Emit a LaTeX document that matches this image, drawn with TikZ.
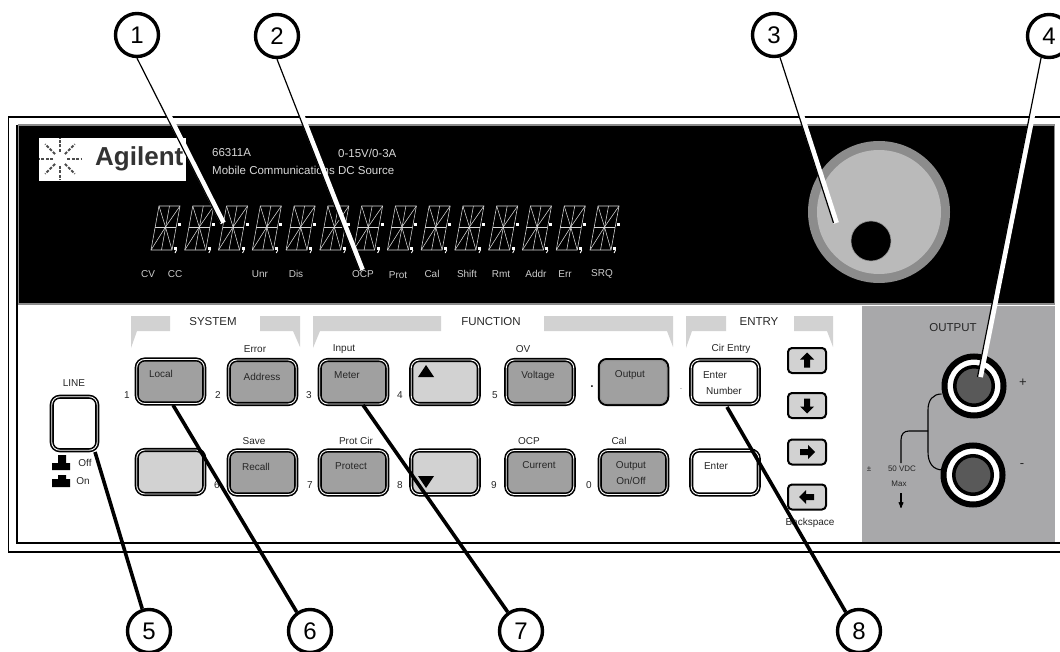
\documentclass[tikz,border=0pt]{standalone}
\usepackage{fontspec}
\setmainfont{Liberation Sans}
\usetikzlibrary{arrows,calc}

\definecolor{keydark}{HTML}{A0A0A0}
\definecolor{keylight}{HTML}{D2D2D2}
\definecolor{panelgray}{HTML}{A8A8AA}

\begin{document}
\begin{tikzpicture}
	[x=1pt,y=-1pt,>=stealth',node distance=90.5pt,
		call node/.style={circle,draw,line width=3.4pt,fill=white,minimum size=43pt,inner sep=0pt,font=\fontsize{24}{24}\selectfont},
		base key/.style={rounded corners=8pt,draw=black,line width=1.6pt,double=white,double distance=.9pt,minimum width=67.5pt,minimum height=44pt,inner sep=0pt},
		dark key/.style={base key,fill=keydark},
		light key/.style={base key,fill=keylight},
		white key/.style={base key,fill=white},
		arrow key/.style={rounded corners=4pt,draw=black,line width=2pt,fill=keylight,minimum width=38pt,minimum height=25pt,inner sep=0pt},
		jack node/.style={circle,draw=black,fill=white,line width=6pt,minimum size=59pt,inner sep=0pt},
		jack core/.style={circle,draw=black,fill=black!65,line width=3.5pt,minimum size=38.5pt,inner sep=0pt},
		bracket/.style={fill=keylight,draw=none},
		lbl/.style={inner sep=0pt,font=\fontsize{10}{10}\selectfont,text=black!85},
		big lbl/.style={inner sep=0pt,font=\fontsize{11.5}{12}\selectfont,text=black!85},
		tiny lbl/.style={inner sep=0pt,font=\fontsize{8}{8}\selectfont,text=black!85},
		front lbl/.style={inner sep=0pt,anchor=west,font=\fontsize{11.5}{12}\selectfont,text=white!85!black},
		status lbl/.style={inner sep=0pt,font=\fontsize{10}{10}\selectfont,text=white!80!black},
		leader/.style={draw=black,line width=1.2pt},
		thick leader/.style={draw=black,line width=3.6pt},
		white leader/.style={draw=white,line width=5.5pt}]

	\useasboundingbox (0,0) rectangle (1060,652);

	% cabinet outline
	\draw[line width=1.4pt] (1060,117) -- (8.5,117) -- (8.5,552) -- (1060,552);
	\draw[line width=1.2pt] (17,125) -- (17,543) -- (1060,543);
	\node[fill=black,draw=black!45,line width=1.2pt,minimum width=1036pt,minimum height=179pt,inner sep=0pt] (display) at (536.5,214.5) {};
	\node[fill=panelgray,minimum width=193pt,minimum height=236pt,inner sep=0pt] (outpanel) at (958.5,424) {};

	% logo
	\node[fill=white,minimum width=147pt,minimum height=43pt,inner sep=0pt] (logo) at (112.5,159.5) {};
	\foreach \a in {0,45,...,315}
		\draw[black!70,line width=2pt,dash pattern=on 3pt off 1.5pt] ($(60,159)+(\a:7)$) -- ($(60,159)+(\a:21)$);
	\node[inner sep=0pt,anchor=west,font=\fontsize{26}{27}\selectfont\bfseries,text=black!80] (brand) at (95,159) {Agilent};
	\node[front lbl] (model) at (212,153) {66311A};
	\node[front lbl] (rating) at (338,153) {0-15V/0-3A};
	\node[front lbl] (source) at (212,170) {Mobile Communications DC Source};

	% alphanumeric display
	\foreach \n in {0,...,13} {
		\begin{scope}[shift={(151+33.77*\n,250)},draw=white!85!black,line width=.55pt]
			\draw (8,-44) -- (29,-44) -- (21,0) -- (0,0) -- cycle;
			\draw (4,-23) -- (25,-23);
			\draw (18.5,-44) -- (10.5,0);
			\draw (8,-44) -- (14.5,-23) -- (21,0);
			\draw (29,-44) -- (14.5,-23) -- (0,0);
			\fill[white] (27,-27) rectangle (30,-24);
			\fill[white] (23,-3) rectangle (26,0);
			\draw[white,line width=.9pt] (25.5,0) -- (24,3);
		\end{scope}
	}
	\node[status lbl] (cv) at (148,274) {CV};
	\node[status lbl] (cc) at (175,274) {CC};
	\node[status lbl] (unr) at (260,274) {Unr};
	\node[status lbl] (dis) at (296,274) {Dis};
	\node[status lbl] (ocp) at (363,274) {OCP};
	\node[status lbl] (prot) at (398,275) {Prot};
	\node[status lbl] (cal) at (432,274) {Cal};
	\node[status lbl] (shift) at (467,274) {Shift};
	\node[status lbl] (rmt) at (501,274) {Rmt};
	\node[status lbl] (addr) at (536,274) {Addr};
	\node[status lbl] (err) at (565,274) {Err};
	\node[status lbl] (srq) at (602,274) {SRQ};

	% knob
	\node[circle,fill=black!45,minimum size=142pt,inner sep=0pt] (knob) at (879,212) {};
	\node[circle,fill=black!27,minimum size=124pt,inner sep=0pt] (knobtop) at (879,212) {};
	\node[circle,fill=black,draw=black!40,line width=.6pt,minimum size=40pt,inner sep=0pt] (dimple) at (871,241) {};

	% group brackets
	\fill[bracket] (131,316) -- (170,316) -- (170,331) -- (137,331) -- (131,348) -- cycle;
	\fill[bracket] (260,316) -- (300,316) -- (300,347) -- (293,331) -- (260,331) -- cycle;
	\fill[bracket] (313,316) -- (441,316) -- (441,331) -- (320,331) -- (313,348) -- cycle;
	\fill[bracket] (544,316) -- (673,316) -- (673,347) -- (667,331) -- (544,331) -- cycle;
	\fill[bracket] (686,316) -- (726,316) -- (726,331) -- (692,331) -- (686,348) -- cycle;
	\fill[bracket] (794,316) -- (833,316) -- (833,347) -- (827,331) -- (794,331) -- cycle;
	\node[big lbl] (system) at (213,322) {SYSTEM};
	\node[big lbl] (function) at (491,322) {FUNCTION};
	\node[big lbl] (entry) at (759,322) {ENTRY};
	\node[big lbl] (output) at (953,328) {OUTPUT};

	% line switch
	\node[base key,fill=white,minimum width=45.5pt,minimum height=53.5pt] (line) at (74.5,423.5) {};
	\node[lbl] (linetxt) at (74,383) {LINE};
	\fill (58,455) rectangle (66,463) (52,463) rectangle (70,470);
	\fill (58,475) rectangle (66,479) (52,479) rectangle (70,487);
	\node[lbl] (off) at (85,463) {Off};
	\node[lbl] (on) at (83,481) {On};

	% keys
	\node[dark key] (local) at (170.5,381.5) {};
	\node[dark key] (address) at (262.5,382) {};
	\node[dark key] (meter) at (353.5,382) {};
	\node[light key] (upkey) at (445,382) {};
	\node[dark key] (voltage) at (540,382) {};
	\node[rounded corners=8pt,fill=keydark,draw=black,line width=2pt,minimum width=69.5pt,minimum height=46pt,inner sep=0pt] (outkey) at (633.5,382) {};
	\node[rounded corners=7pt,draw=black!42,line width=1pt,minimum width=66.5pt,minimum height=43pt,inner sep=0pt] (outrim) at (633.5,382) {};
	\node[white key] (number) at (725,382) {};
	\node[light key] (blank)[below of = local] {};
	\node[dark key] (recall)[below of = address] {};
	\node[dark key] (protect)[below of = meter] {};
	\node[light key] (downkey)[below of = upkey] {};
	\node[dark key] (current)[below of = voltage] {};
	\node[dark key] (onoff)[below of = outkey] {};
	\node[white key] (enter)[below of = number] {};
	\fill (418,377) -- (426,365) -- (434,377) -- cycle;
	\fill (418,476) -- (426,488) -- (434,476) -- cycle;

	% arrow keys
	\node[arrow key] (arrowup) at (807,360.5) {};
	\node[arrow key] (arrowdown) at (807,405.5) {};
	\node[arrow key] (arrowright) at (807,452) {};
	\node[arrow key] (arrowleft) at (807,497) {};
	\foreach \k/\r in {arrowup/0,arrowdown/180,arrowright/270,arrowleft/90}
		\fill[shift={(\k)},rotate=\r] (0,-8) -- (7,-1) -- (3,-1) -- (3,7) -- (-3,7) -- (-3,-1) -- (-7,-1) -- cycle;

	% key texts
	\node[lbl] (txtlocal) at (161,374) {Local};
	\node[lbl] (txtaddress) at (262,377) {Address};
	\node[lbl] (txtmeter) at (347,375) {Meter};
	\node[lbl] (txtvoltage) at (538,376) {Voltage};
	\node[lbl] (txtoutput) at (630,375) {Output};
	\node[lbl] (txtenter) at (715,375) {Enter};
	\node[lbl] (txtnumber) at (724,391) {Number};
	\node[lbl] (txtrecall) at (256,467) {Recall};
	\node[lbl] (txtprotect) at (351,466) {Protect};
	\node[lbl] (txtcurrent) at (539,465) {Current};
	\node[lbl] (txtout) at (631,466) {Output};
	\node[lbl] (txtonoff) at (631,481) {On/Off};
	\node[lbl] (txtenter2) at (716,466) {Enter};

	\node[lbl] (txterror) at (255,349) {Error};
	\node[lbl] (txtinput) at (344,349) {Input};
	\node[lbl] (txtov) at (523,349) {OV};
	\node[lbl] (txtclr) at (731,349) {Cir Entry};
	\node[lbl] (txtsave) at (254,441) {Save};
	\node[lbl] (txtcir) at (356,441) {Prot Cir};
	\node[lbl] (txtocp) at (529,441) {OCP};
	\node[lbl] (txtcal) at (619,441) {Cal};
	\node[lbl] (txtback) at (810,523) {Backspace};

	\node[lbl] (dig1) at (127,395) {1};
	\node[lbl] (dig2) at (218,395) {2};
	\node[lbl] (dig3) at (309,395) {3};
	\node[lbl] (dig4) at (400,395) {4};
	\node[lbl] (dig5) at (495,395) {5};
	\node[lbl,font=\fontsize{12}{12}\selectfont\bfseries] (digdot) at (592,387) {.};
	\node[lbl,font=\fontsize{7}{7}\selectfont] (digminus) at (681,389) {.};
	\node[lbl] (dig6) at (217,485) {6};
	\node[lbl] (dig7) at (310,485) {7};
	\node[lbl] (dig8) at (400,485) {8};
	\node[lbl] (dig9) at (494,485) {9};
	\node[lbl] (dig0) at (589,485) {0};

	% output terminals
	\node[jack node] (plus) at (974,386) {};
	\node[jack core] (pluscore) at (974,386) {};
	\node[jack node] (minus) at (973,475) {};
	\node[jack core] (minuscore) at (973,475) {};
	\node[big lbl,font=\fontsize{13}{13}\selectfont] (plustxt) at (1023,383) {+};
	\node[big lbl,font=\fontsize{13}{13}\selectfont] (minustxt) at (1022,466) {-};
	\draw[line width=1.1pt] (plus.west) ++(0,8) .. controls (933,394) and (928,400) .. (928,410) -- (928,452) .. controls (928,463) and (933,470) .. (943,470);
	\draw[line width=1.1pt] (928,431) -- (909,431) .. controls (904,431) and (901,434) .. (901,440) -- (901,463);
	\coordinate (vdcend) at (901,508);
	\draw[->,line width=1.1pt] (901,493) -- (vdcend);
	\node[tiny lbl] (pm) at (869,469) {±};
	\node[tiny lbl] (vdc) at (902,469) {50 VDC};
	\node[tiny lbl] (max) at (899,484) {Max};

	% callouts
	\node[call node] (call1) at (137,35) {1};
	\node[call node] (call2) at (277,36) {2};
	\node[call node] (call3) at (774,35) {3};
	\node[call node] (call4) at (1049,36) {4};
	\node[call node] (call5) at (149,631) {5};
	\node[call node] (call6) at (310,631) {6};
	\node[call node] (call7) at (521,631) {7};
	\node[call node] (call8) at (859,631) {8};

	\coordinate (tip1) at (220.5,223);
	\coordinate (tip2) at (359.5,270);
	\coordinate (tip3) at (833.5,223);
	\coordinate (tip4) at (977.5,377);
	\coordinate (tip5) at (95,452);
	\coordinate (tip6) at (173,405);
	\coordinate (tip7) at (363,405);
	\coordinate (tip8) at (727,407);

	\draw[white leader] ([xshift=2.7pt]$(call1.south)!.345!(tip1)$) -- ([xshift=2.7pt]tip1);
	\draw[white leader] ([xshift=2.7pt]$(call2.south)!.262!(tip2)$) -- ([xshift=2.7pt]tip2);
	\draw[white leader] ([xshift=2.7pt]$(call3.-75)!.345!(tip3)$) -- ([xshift=2.7pt]tip3);
	\draw[white leader] ([xshift=2.7pt]$(call4.-110)!.179!(tip4)$) -- ([xshift=2.7pt]tip4);

	\path
	(call1.south) edge[leader] (tip1)
	(call2.south) edge[leader] (tip2)
	(call3.-75) edge[leader] (tip3)
	(call4.-110) edge[leader] (tip4)
	(call5.107) edge[thick leader] (tip5)
	(call6.125) edge[thick leader] (tip6)
	(call7.125) edge[thick leader] (tip7)
	(call8.125) edge[thick leader] (tip8)
	;

\end{tikzpicture}
\end{document}
